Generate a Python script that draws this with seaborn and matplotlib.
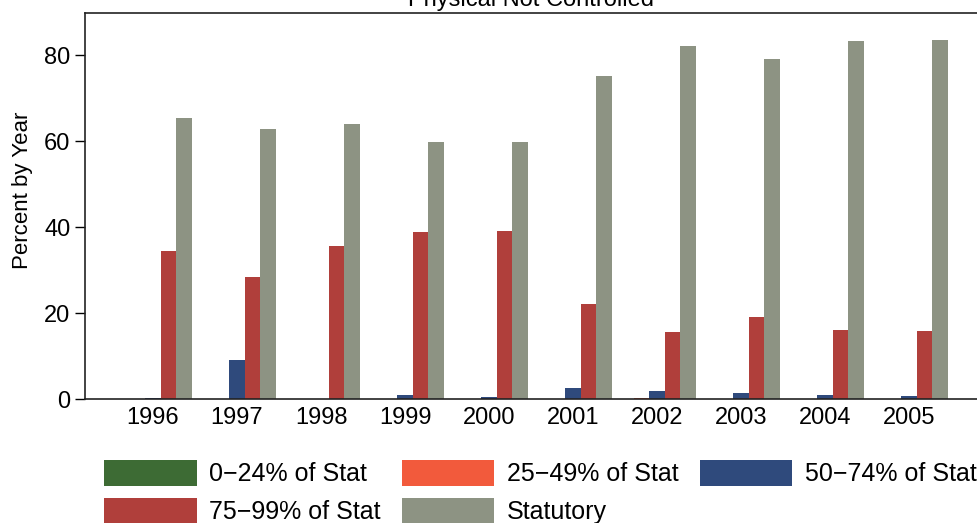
import pandas as pd
import matplotlib
matplotlib.use("Agg")
import matplotlib.pyplot as plt
import seaborn as sns

# Datos
years = ["1996", "1997", "1998", "1999", "2000", "2001", "2002", "2003", "2004", "2005"]
series = ["0\u221224% of Stat", "25\u221249% of Stat", "50\u221274% of Stat",
          "75\u221299% of Stat", "Statutory"]
stat_0_24 = [0, 0, 0, 0, 0, 0, 0, 0, 0, 0]
stat_25_49 = [0, 0, 0, 0, 0, 0, 0.3, 0, 0, 0]
stat_50_74 = [0.3, 9.1, 0, 1.0, 0.5, 2.5, 1.9, 1.4, 1.0, 0.8]
stat_75_99 = [34.4, 28.4, 35.6, 38.8, 39.0, 22.0, 15.6, 19.0, 16.0, 15.8]
statutory = [65.3, 62.8, 64.0, 59.7, 59.7, 75.1, 82.2, 79.1, 83.2, 83.5]
colors = ["#3d6b34", "#f25a3c", "#2f4a7c", "#b03f3b", "#8d9383"]

valores = [stat_0_24, stat_25_49, stat_50_74, stat_75_99, statutory]
df = pd.DataFrame({
    "year": years * len(series),
    "serie": [s for s in series for _ in years],
    "pct": [v for vals in valores for v in vals],
})

sns.set_style("ticks")
plt.rcParams["font.family"] = ["Liberation Sans", "DejaVu Sans"]
plt.rcParams["text.color"] = "black"
plt.rcParams["axes.labelcolor"] = "black"
plt.rcParams["xtick.color"] = "black"
plt.rcParams["ytick.color"] = "black"

fig = plt.figure(figsize=(9.78, 5.23), dpi=100)
ax = fig.add_axes([85 / 978, 1 - 399 / 523, 1 - 85 / 978, (399 - 13) / 523])

sns.barplot(data=df, x="year", y="pct", hue="serie", hue_order=series,
            palette=colors, width=0.92, saturation=1, linewidth=0,
            ax=ax, legend=False)

ax.set_xlim(-0.81, 9.82)
ax.set_ylim(0, 89.8)
ax.set_yticks([0, 20, 40, 60, 80])
ax.tick_params(axis="y", labelsize=17, length=7, width=1)
ax.tick_params(axis="x", labelsize=17, length=0, pad=6)
ax.set_xlabel("")
ax.set_ylabel("Percent by Year", fontsize=16)
ax.yaxis.set_label_coords(-0.058, 0.54)
for s in ["left", "top", "bottom"]:
    ax.spines[s].set_color("#222222")
    ax.spines[s].set_linewidth(1.2)
ax.spines["right"].set_visible(False)

# Titulo cortado arriba, como en la imagen original
fig.text((85 + 978) / 2 / 978, 1 - 6 / 523, "Physical Not Controlled",
         ha="center", va="baseline", fontsize=17)

# Leyenda en filas (orden por columnas de matplotlib)
handles = [plt.Rectangle((0, 0), 1, 1, color=c, linewidth=0) for c in colors]
orden = [0, 3, 1, 4, 2]
fig.legend([handles[i] for i in orden], [series[i] for i in orden],
           ncol=3, loc="upper left", bbox_to_anchor=(104 / 978, 1 - 460 / 523),
           frameon=False, fontsize=18, handlelength=3.7, handleheight=1.2,
           handletextpad=0.5, columnspacing=0.85, labelspacing=0.45,
           borderpad=0, borderaxespad=0)

fig.savefig("out.png", dpi=100)
